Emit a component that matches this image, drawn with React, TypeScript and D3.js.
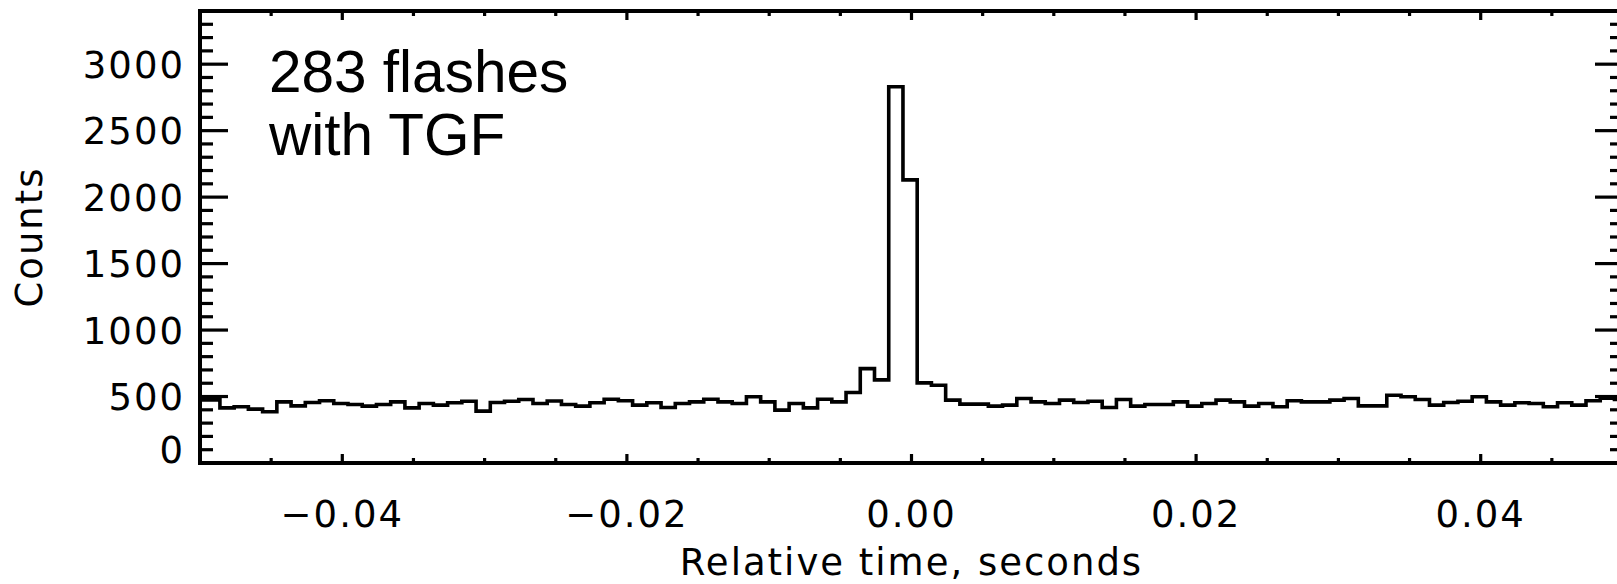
import React from "react";
import * as d3 from "d3";

// ---- data ----
const binStart = -0.0496; // left edge of first bin (s)
const binWidth = 0.001; // s
const counts = [
  475, 415, 423, 405, 385, 460, 430, 455, 468, 448, 440, 428, 440, 460, 415, 448, 435, 453, 465, 390,
  455, 465, 478, 448, 466, 440, 428, 453, 480, 468, 435, 453, 418, 448, 460, 480, 460, 448, 498, 460,
  398, 448, 415, 480, 460, 530, 710, 625, 2830, 2130, 603, 585, 473, 443, 443, 428, 435, 485, 460, 448,
  473, 455, 465, 418, 478, 428, 440, 440, 460, 428, 448, 473, 460, 428, 448, 423, 468, 460, 460, 473,
  485, 430, 430, 510, 498, 478, 435, 455, 465, 498, 460, 435, 453, 448, 423, 453, 435, 468, 488, 478,
];
const xDomain = [-0.05, 0.05];
const yDomain = [0, 3400];
const xTickValues = [-0.04, -0.02, 0.0, 0.02, 0.04];
const xTickLabels = ["\u22120.04", "\u22120.02", "0.00", "0.02", "0.04"];
const yTickValues = [0, 500, 1000, 1500, 2000, 2500, 3000];
const yTickLabels = ["0", "500", "1000", "1500", "2000", "2500", "3000"];
const xMinorStep = 0.005;
const yMinorStep = 100;
const annotation = ["283 flashes", "with TGF"];
const xTitle = "Relative time, seconds";
const yTitle = "Counts";

// ---- layout ----
const W = 1617;
const H = 584;
const L = 200;
const R = 1623;
const T = 11;
const B = 463;

export default function App() {
  const x = d3.scaleLinear().domain(xDomain).range([L, R]);
  const y = d3.scaleLinear().domain(yDomain).range([B, T]);

  const pts: [number, number][] = [];
  pts.push([xDomain[0], counts[0]]);
  counts.forEach((c, i) => pts.push([binStart + i * binWidth, c]));
  pts.push([binStart + counts.length * binWidth, counts[counts.length - 1]]);
  const line = d3
    .line<[number, number]>()
    .x((d) => x(d[0]))
    .y((d) => y(d[1]))
    .curve(d3.curveStepAfter);

  const xMinor = d3.range(xDomain[0], xDomain[1] + 1e-9, xMinorStep);
  const yMinor = d3.range(yDomain[0], yDomain[1] + 1e-9, yMinorStep);
  const isXMajor = (v: number) => xTickValues.some((t) => Math.abs(t - v) < 1e-9);
  const isYMajor = (v: number) => yTickValues.some((t) => Math.abs(t - v) < 1e-9);

  const axisFont = "'DejaVu Sans', sans-serif";
  const sw = 3.2;

  return (
    <svg
      width={W}
      height={H}
      style={{ position: "absolute", left: 0, top: 0, background: "#fff" }}
    >
      <rect x={0} y={0} width={W} height={H} fill="#fff" />
      <defs>
        <clipPath id="plotclip">
          <rect x={L} y={T} width={R - L} height={B - T} />
        </clipPath>
      </defs>
      {/* histogram */}
      <path
        d={line(pts) || ""}
        fill="none"
        stroke="#000"
        strokeWidth={3.6}
        strokeLinejoin="miter"
        clipPath="url(#plotclip)"
      />
      {/* x ticks bottom & top */}
      {xMinor.map((v, i) => {
        const len = isXMajor(v) ? 9 : 5;
        const px = x(v);
        return (
          <g key={"xt" + i}>
            <line x1={px} x2={px} y1={B} y2={B - len} stroke="#000" strokeWidth={sw} />
            <line x1={px} x2={px} y1={T} y2={T + len} stroke="#000" strokeWidth={sw} />
          </g>
        );
      })}
      {/* y ticks left & right */}
      {yMinor.map((v, i) => {
        const len = isYMajor(v) ? 28 : 13;
        const py = y(v);
        return (
          <g key={"yt" + i}>
            <line x1={L} x2={L + len} y1={py} y2={py} stroke="#000" strokeWidth={sw} />
            <line x1={R} x2={R - len} y1={py} y2={py} stroke="#000" strokeWidth={sw} />
          </g>
        );
      })}
      {/* frame */}
      <rect x={L} y={T} width={R - L} height={B - T} fill="none" stroke="#000" strokeWidth={4} />
      {/* x tick labels */}
      {xTickValues.map((v, i) => (
        <text
          key={"xl" + i}
          x={x(v)}
          y={527}
          textAnchor="middle"
          fontFamily={axisFont}
          fontSize={37}
          letterSpacing={2}
          fill="#000"
        >
          {xTickLabels[i]}
        </text>
      ))}
      {/* y tick labels (IDL lifts the zero label off the x axis) */}
      {yTickValues.map((v, i) => (
        <text
          key={"yl" + i}
          x={185}
          y={(v === 0 ? y(v) - 14 : y(v)) + 13.5}
          textAnchor="end"
          fontFamily={axisFont}
          fontSize={37}
          letterSpacing={2}
          fill="#000"
        >
          {yTickLabels[i]}
        </text>
      ))}
      {/* axis titles */}
      <text
        x={(L + R) / 2}
        y={575}
        textAnchor="middle"
        fontFamily={axisFont}
        fontSize={37}
        letterSpacing={2}
        fill="#000"
      >
        {xTitle}
      </text>
      <text
        transform={`translate(42,${(T + B) / 2}) rotate(-90)`}
        textAnchor="middle"
        fontFamily={axisFont}
        fontSize={37}
        letterSpacing={2}
        fill="#000"
      >
        {yTitle}
      </text>
      {/* annotation */}
      {annotation.map((s, i) => (
        <text
          key={"an" + i}
          x={269}
          y={92 + i * 63}
          fontFamily="'Liberation Sans', Arial, sans-serif"
          fontSize={58.5}
          fill="#000"
        >
          {s}
        </text>
      ))}
    </svg>
  );
}
